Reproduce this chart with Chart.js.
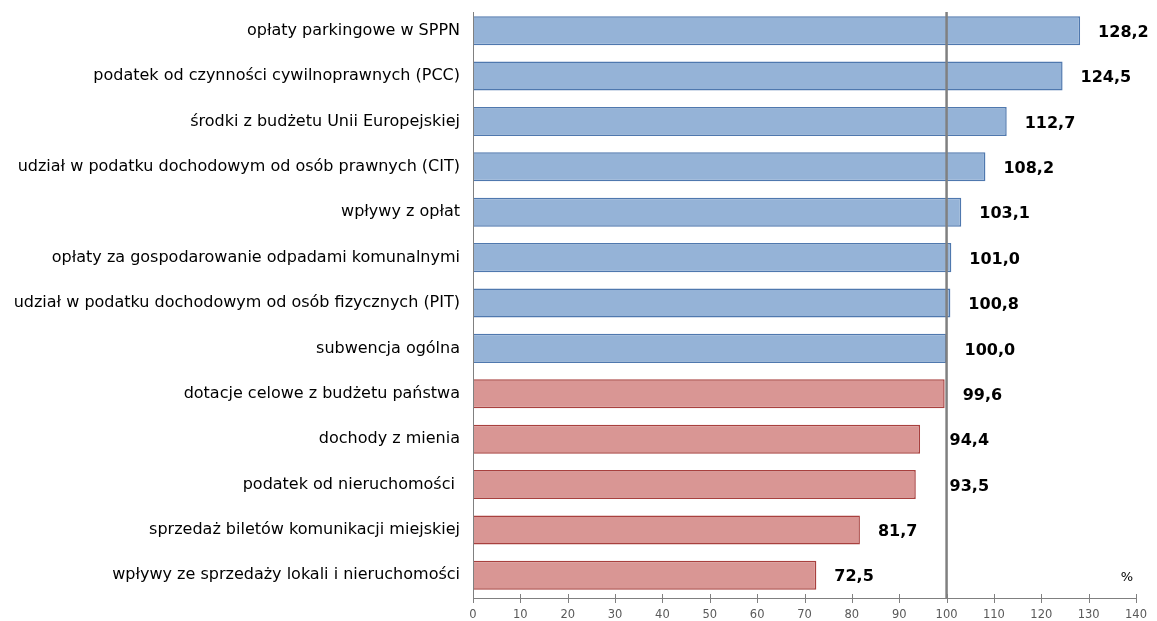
<!DOCTYPE html>
<html><head><meta charset="utf-8">
<script src="https://cdn.jsdelivr.net/npm/chart.js@4"></script>
<style>html,body{margin:0;padding:0;background:#fff}#w{width:1157px;height:621px}</style>
</head><body><div id="w"><canvas id="c"></canvas></div>
<script>
const categories = [
  "opłaty parkingowe w SPPN",
  "podatek od czynności cywilnoprawnych (PCC)",
  "środki z budżetu Unii Europejskiej",
  "udział w podatku dochodowym od osób prawnych (CIT)",
  "wpływy z opłat",
  "opłaty za gospodarowanie odpadami komunalnymi",
  "udział w podatku dochodowym od osób fizycznych (PIT)",
  "subwencja ogólna",
  "dotacje celowe z budżetu państwa",
  "dochody z mienia",
  "podatek od nieruchomości ",
  "sprzedaż biletów komunikacji miejskiej",
  "wpływy ze sprzedaży lokali i nieruchomości"
];
const values = [128.2, 124.5, 112.7, 108.2, 103.1, 101.0, 100.8, 100.0, 99.6, 94.4, 93.5, 81.7, 72.5];
const referenceValue = 100;
const xTicks = [0,10,20,30,40,50,60,70,80,90,100,110,120,130,140];
const unitLabel = "%";

const fills = values.map(v => v >= referenceValue ? "#95B3D7" : "#D99694");
const borders = values.map(v => v >= referenceValue ? "#4F78AE" : "#A8403E");
const fmt = v => v.toFixed(1).replace(".", ",");
const FONT = "'DejaVu Sans', Verdana, sans-serif";

const overlay = {
  id: "overlay",
  afterDatasetsDraw(chart) {
    const ctx = chart.ctx, xs = chart.scales.x, a = chart.chartArea;
    ctx.save();
    // left axis line
    ctx.strokeStyle = "#808080"; ctx.lineWidth = 1;
    ctx.beginPath(); ctx.moveTo(a.left + 0.5, a.top + 4); ctx.lineTo(a.left + 0.5, a.bottom); ctx.stroke();
    // reference line
    const x100 = xs.getPixelForValue(referenceValue);
    ctx.strokeStyle = "#808080"; ctx.lineWidth = 2.5;
    ctx.beginPath(); ctx.moveTo(x100, a.top + 4); ctx.lineTo(x100, a.bottom); ctx.stroke();
    // tick marks crossing the axis
    ctx.lineWidth = 1;
    xs.ticks.forEach(t => {
      const px = Math.round(xs.getPixelForValue(t.value)) + 0.5;
      ctx.beginPath(); ctx.moveTo(px, a.bottom - 4); ctx.lineTo(px, a.bottom + 5); ctx.stroke();
    });
    // value labels
    ctx.fillStyle = "#000"; ctx.font = "bold 16px " + FONT;
    ctx.textAlign = "left"; ctx.textBaseline = "middle";
    const meta = chart.getDatasetMeta(0);
    meta.data.forEach((bar, i) => {
      const txt = fmt(values[i]);
      const w = ctx.measureText(txt).width;
      let x = bar.x + 18;
      if (x < x100 && x + w > x100 - 4) x = x100 + 3;
      ctx.fillText(txt, x, bar.y + 2);
    });
    // unit
    ctx.font = "13px " + FONT;
    ctx.textAlign = "center";
    ctx.fillText(unitLabel, xs.right - 9, meta.data[meta.data.length - 1].y + 2);
    ctx.restore();
  }
};

new Chart(document.getElementById("c"), {
  type: "bar",
  data: { labels: categories, datasets: [{ data: values, backgroundColor: fills, borderColor: borders, borderWidth: 1.5, barPercentage: 0.64, categoryPercentage: 1 }] },
  options: {
    indexAxis: "y", responsive: true, maintainAspectRatio: false, animation: false,
    layout: { padding: { left: 0, right: 21, top: 8, bottom: 0 } },
    plugins: { legend: { display: false }, tooltip: { enabled: false } },
    scales: {
      x: {
        min: 0, max: 140,
        afterBuildTicks: s => { s.ticks = xTicks.map(v => ({ value: v })); },
        afterFit: s => { s.height = 23; },
        grid: { display: false, drawTicks: false },
        border: { display: true, color: "#808080", width: 1 },
        ticks: { color: "#595959", font: { family: FONT, size: 11.5 }, padding: 10, maxRotation: 0, autoSkip: false }
      },
      y: {
        afterFit: s => { s.width = 473; s.paddingTop = 0; s.paddingBottom = 0; },
        grid: { display: false, drawTicks: false },
        border: { display: false },
        ticks: { color: "#000", font: { family: FONT, size: 16 }, padding: 13, autoSkip: false }
      }
    }
  },
  plugins: [overlay]
});
</script></body></html>
